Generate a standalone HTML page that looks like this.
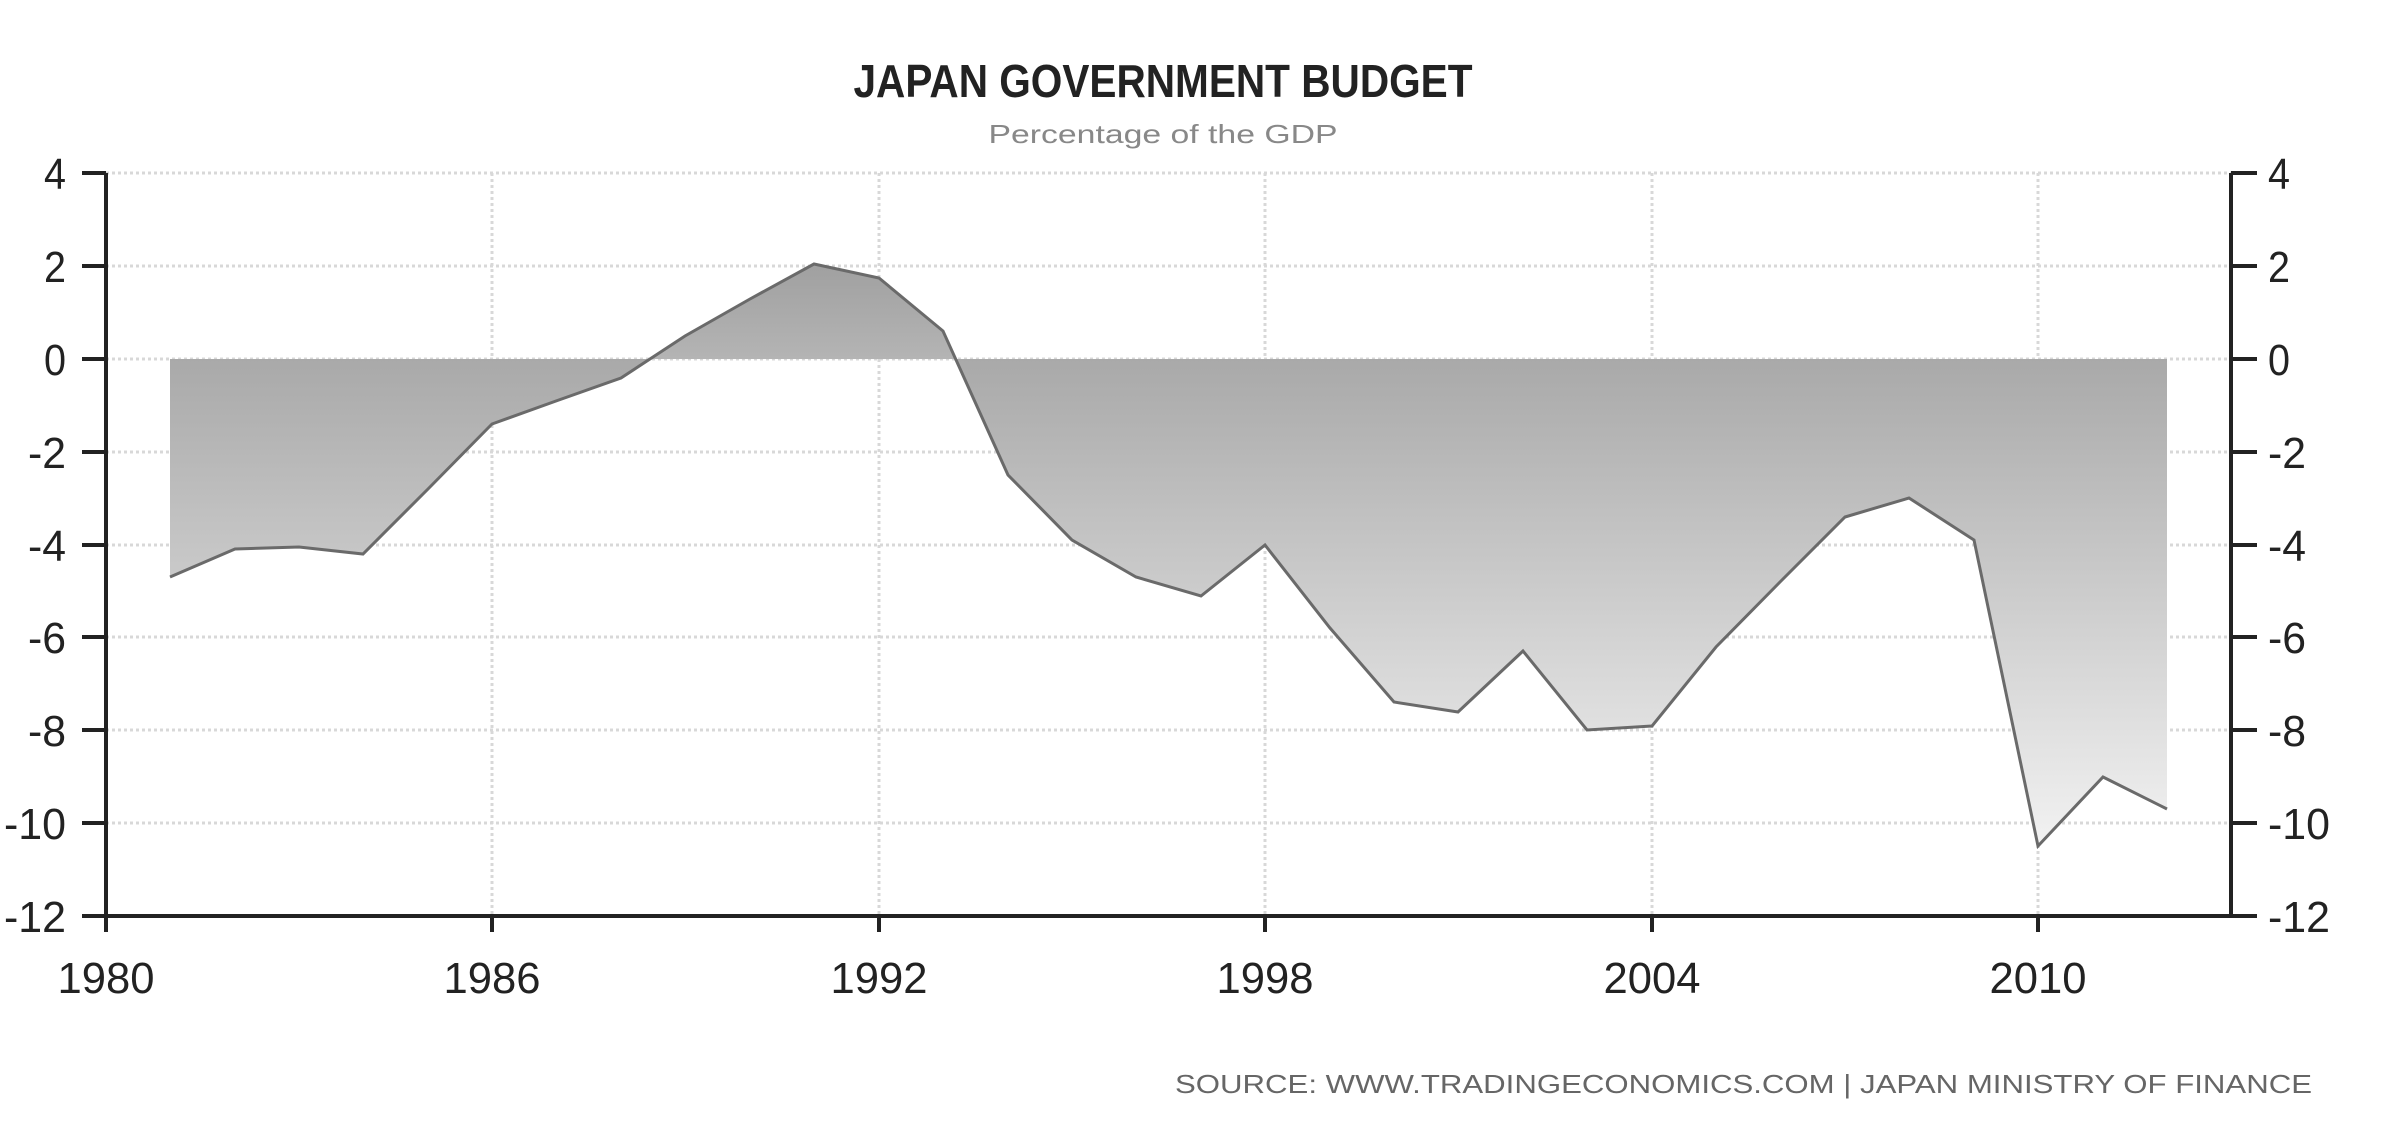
<!DOCTYPE html>
<html><head><meta charset="utf-8"><style>
html,body{margin:0;padding:0;background:#fff;}
svg{display:block;}
text{font-family:"Liberation Sans",sans-serif;}
</style></head><body>
<svg width="2400" height="1135" viewBox="0 0 2400 1135" xmlns="http://www.w3.org/2000/svg">
<defs>
<linearGradient id="gneg" x1="0" y1="359" x2="0" y2="860" gradientUnits="userSpaceOnUse">
<stop offset="0" stop-color="#a9a9a9"/><stop offset="1" stop-color="#f4f4f4"/>
</linearGradient>
<linearGradient id="gpos" x1="0" y1="264" x2="0" y2="359" gradientUnits="userSpaceOnUse">
<stop offset="0" stop-color="#a0a0a0"/><stop offset="1" stop-color="#b4b4b4"/>
</linearGradient>
<clipPath id="above"><rect x="106" y="0" width="2125" height="359"/></clipPath>
<clipPath id="below"><rect x="106" y="359" width="2125" height="560"/></clipPath>
</defs>
<text x="1163" y="97" font-size="46" font-weight="bold" text-anchor="middle" textLength="619" lengthAdjust="spacingAndGlyphs" fill="#222">JAPAN GOVERNMENT BUDGET</text>
<text x="1163" y="143" font-size="26" text-anchor="middle" textLength="349" lengthAdjust="spacingAndGlyphs" fill="#888">Percentage of the GDP</text>
<g stroke="#d8d8d8" stroke-width="3" stroke-dasharray="3,3">
<line x1="106" y1="173" x2="2231" y2="173"/><line x1="106" y1="266" x2="2231" y2="266"/><line x1="106" y1="359" x2="2231" y2="359"/><line x1="106" y1="452" x2="2231" y2="452"/><line x1="106" y1="545" x2="2231" y2="545"/><line x1="106" y1="637" x2="2231" y2="637"/><line x1="106" y1="730" x2="2231" y2="730"/><line x1="106" y1="823" x2="2231" y2="823"/>
<line x1="492" y1="173" x2="492" y2="916"/><line x1="879" y1="173" x2="879" y2="916"/><line x1="1265" y1="173" x2="1265" y2="916"/><line x1="1652" y1="173" x2="1652" y2="916"/><line x1="2038" y1="173" x2="2038" y2="916"/>
</g>
<g>
<path clip-path="url(#below)" fill="url(#gneg)" d="M170,359 L170,577 L235,549 L299,547 L363,554 L428,489 L492,424 L556,401 L621,378 L685,336 L750,299 L814,264 L879,278 L943,331 L1008,475 L1072,540 L1136,577 L1201,596 L1265,545 L1330,628 L1394,702 L1458,712 L1523,651 L1587,730 L1652,726 L1716,647 L1780,582 L1845,517 L1909,498 L1974,540 L2038,846 L2103,777 L2167,809 L2167,359 Z"/>
<path clip-path="url(#above)" fill="url(#gpos)" d="M170,359 L170,577 L235,549 L299,547 L363,554 L428,489 L492,424 L556,401 L621,378 L685,336 L750,299 L814,264 L879,278 L943,331 L1008,475 L1072,540 L1136,577 L1201,596 L1265,545 L1330,628 L1394,702 L1458,712 L1523,651 L1587,730 L1652,726 L1716,647 L1780,582 L1845,517 L1909,498 L1974,540 L2038,846 L2103,777 L2167,809 L2167,359 Z"/>
<polyline fill="none" stroke="#6a6a6a" stroke-width="3" points="170,577 235,549 299,547 363,554 428,489 492,424 556,401 621,378 685,336 750,299 814,264 879,278 943,331 1008,475 1072,540 1136,577 1201,596 1265,545 1330,628 1394,702 1458,712 1523,651 1587,730 1652,726 1716,647 1780,582 1845,517 1909,498 1974,540 2038,846 2103,777 2167,809"/>
</g>
<g stroke="#222" stroke-width="4" fill="none">
<line x1="106" y1="173" x2="106" y2="918"/><line x1="2231" y1="173" x2="2231" y2="918"/><line x1="104" y1="916" x2="2233" y2="916"/>
<path d="M82,173H106M82,266H106M82,359H106M82,452H106M82,545H106M82,637H106M82,730H106M82,823H106M82,916H106"/>
<path d="M2231,173H2257M2231,266H2257M2231,359H2257M2231,452H2257M2231,545H2257M2231,637H2257M2231,730H2257M2231,823H2257M2231,916H2257"/>
<path d="M106,916V932M492,916V932M879,916V932M1265,916V932M1652,916V932M2038,916V932"/>
</g>
<g font-size="44" fill="#222" text-anchor="end" lengthAdjust="spacingAndGlyphs">
<text x="66" y="189" textLength="22" lengthAdjust="spacingAndGlyphs">4</text><text x="66" y="282" textLength="22" lengthAdjust="spacingAndGlyphs">2</text><text x="66" y="375" textLength="22" lengthAdjust="spacingAndGlyphs">0</text><text x="66" y="468" textLength="38" lengthAdjust="spacingAndGlyphs">-2</text><text x="66" y="561" textLength="38" lengthAdjust="spacingAndGlyphs">-4</text><text x="66" y="653" textLength="38" lengthAdjust="spacingAndGlyphs">-6</text><text x="66" y="746" textLength="38" lengthAdjust="spacingAndGlyphs">-8</text><text x="66" y="839" textLength="62" lengthAdjust="spacingAndGlyphs">-10</text><text x="66" y="932" textLength="62" lengthAdjust="spacingAndGlyphs">-12</text>
</g>
<g font-size="44" fill="#222" text-anchor="start">
<text x="2268" y="189" textLength="22" lengthAdjust="spacingAndGlyphs">4</text><text x="2268" y="282" textLength="22" lengthAdjust="spacingAndGlyphs">2</text><text x="2268" y="375" textLength="22" lengthAdjust="spacingAndGlyphs">0</text><text x="2268" y="468" textLength="38" lengthAdjust="spacingAndGlyphs">-2</text><text x="2268" y="561" textLength="38" lengthAdjust="spacingAndGlyphs">-4</text><text x="2268" y="653" textLength="38" lengthAdjust="spacingAndGlyphs">-6</text><text x="2268" y="746" textLength="38" lengthAdjust="spacingAndGlyphs">-8</text><text x="2268" y="839" textLength="62" lengthAdjust="spacingAndGlyphs">-10</text><text x="2268" y="932" textLength="62" lengthAdjust="spacingAndGlyphs">-12</text>
</g>
<g font-size="44" fill="#222" text-anchor="middle">
<text x="106" y="993" textLength="97" lengthAdjust="spacingAndGlyphs">1980</text><text x="492" y="993" textLength="97" lengthAdjust="spacingAndGlyphs">1986</text><text x="879" y="993" textLength="97" lengthAdjust="spacingAndGlyphs">1992</text><text x="1265" y="993" textLength="97" lengthAdjust="spacingAndGlyphs">1998</text><text x="1652" y="993" textLength="97" lengthAdjust="spacingAndGlyphs">2004</text><text x="2038" y="993" textLength="97" lengthAdjust="spacingAndGlyphs">2010</text>
</g>
<text x="1175" y="1093" font-size="26" fill="#666" textLength="1137" lengthAdjust="spacingAndGlyphs">SOURCE:  WWW.TRADINGECONOMICS.COM  |  JAPAN MINISTRY OF FINANCE</text>
</svg>
</body></html>
